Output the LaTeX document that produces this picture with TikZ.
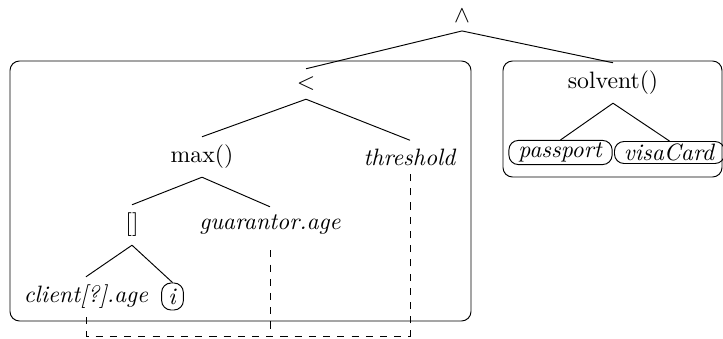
\documentclass[tikz,border=0pt]{standalone}
\begin{document}
\begin{tikzpicture}[x=0.01483cm,y=-0.01483cm,
    leaf/.style={draw,rounded corners=4pt,inner xsep=4pt,inner ysep=1pt},
    frame/.style={rounded corners=4pt},
    link/.style={dashed}]
    \useasboundingbox (0,0) rectangle (723,339);
    % the two boxed subtrees
    \draw[frame] (10,61) rectangle (471,321);
    \draw[frame] (503,61) rectangle (722,177);
    % nodes
    \node (and) at (462,16) {$\wedge$};
    \node (lt) at (306,84) {$<$};
    \node (max) at (202,157) {max()};
    \node (thr) at (410,157) {\textit{threshold}};
    \node (idx) at (132,225) {[]};
    \node (gua) at (270,225) {\textit{guarantor.age}};
    \node (cli) at (86,297) {\textit{client[?].age}};
    \node[leaf,inner xsep=2.8pt,minimum height=11.4pt] (i) at (172.5,296.5) {\textit{i}};
    \node (sol) at (613,83) {solvent()};
    \node[leaf] (pas) at (560.5,152.5) {\textit{passport}};
    \node[leaf] (vis) at (669.5,152.5) {\textit{visaCard}};
    % tree edges
    \draw (and.south) -- (lt.north);
    \draw (and.south) -- (sol.north);
    \draw (lt.south) -- (max.north);
    \draw (lt.south) -- (thr.north);
    \draw (max.south) -- (idx.north);
    \draw (max.south) -- (gua.north);
    \draw (idx.south) -- (cli.north);
    \draw (idx.south) -- (i.north);
    \draw (sol.south) -- (pas.north);
    \draw (sol.south) -- (vis.north);
    % dashed links
    \coordinate (bus) at (0,336);
    \draw[link] (cli.south) |- (bus -| thr.south) -- (thr.south);
    \draw[link] ([yshift=-3pt]gua.south) -- (gua.south |- bus);
\end{tikzpicture}
\end{document}
